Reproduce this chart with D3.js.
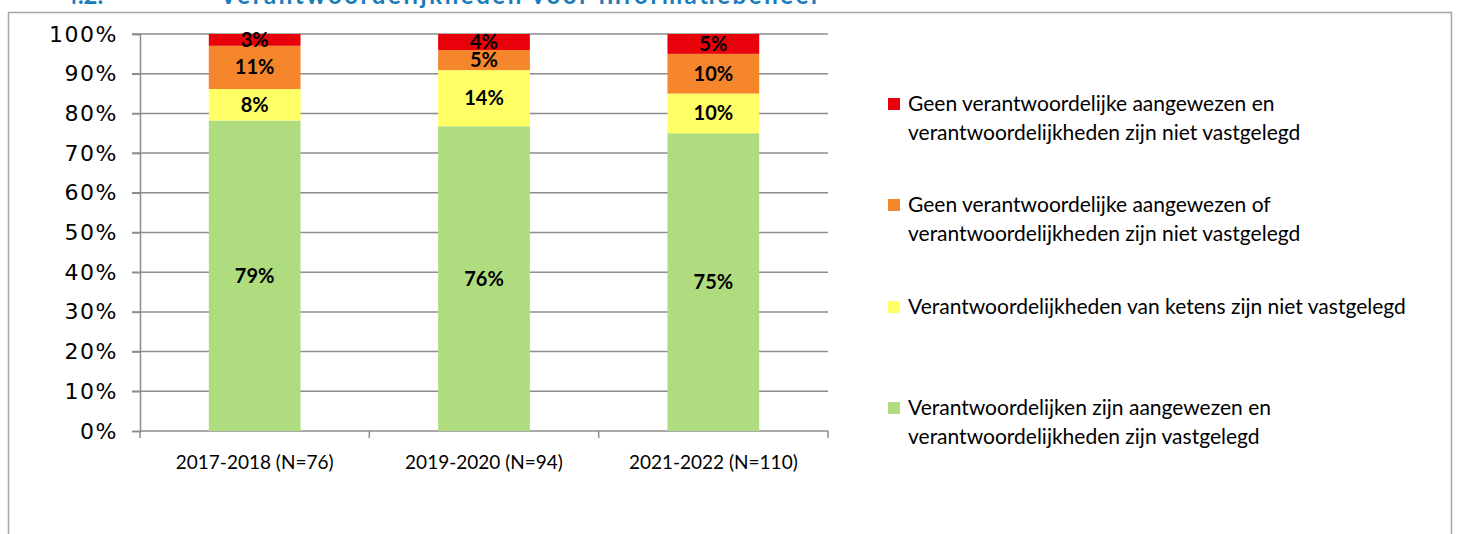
<!DOCTYPE html>
<html>
<head>
<meta charset="utf-8">
<script src="https://cdn.jsdelivr.net/npm/d3@7.9.0/dist/d3.min.js"></script>
<style>
  body { margin: 0; background: #fff; }
  svg { display: block; }
</style>
</head>
<body>
<svg id="chart" width="1460" height="534"></svg>
<script>
// data
const periods = ['2017-2018 (N=76)', '2019-2020 (N=94)', '2021-2022 (N=110)'];
const seriesKeys = ['aangewezen', 'ketens', 'geenOf', 'geenEn'];
const seriesLabels = [
  ['Verantwoordelijken zijn aangewezen en', 'verantwoordelijkheden zijn vastgelegd'],
  ['Verantwoordelijkheden van ketens zijn niet vastgelegd'],
  ['Geen verantwoordelijke aangewezen of', 'verantwoordelijkheden zijn niet vastgelegd'],
  ['Geen verantwoordelijke aangewezen en', 'verantwoordelijkheden zijn niet vastgelegd']
];
const aangewezen = [79, 76, 75];
const ketens = [8, 14, 10];
const geenOf = [11, 5, 10];
const geenEn = [3, 4, 5];
const colors = ['#b0dc80', '#ffff66', '#f5862b', '#e8000b'];
const yTicks = [0, 0.1, 0.2, 0.3, 0.4, 0.5, 0.6, 0.7, 0.8, 0.9, 1];

const rows = periods.map((p, i) => ({
  period: p,
  aangewezen: aangewezen[i],
  ketens: ketens[i],
  geenOf: geenOf[i],
  geenEn: geenEn[i]
}));

const svg = d3.select('#chart');

// outer frame and (cut off) heading
svg.append('rect')
  .attr('x', 8.5).attr('y', 12.5)
  .attr('width', 1443).attr('height', 540)
  .attr('fill', 'none').attr('stroke', '#a6a6a6').attr('stroke-width', 1.5);

const title = svg.append('g')
  .attr('font-family', 'Lato, sans-serif')
  .attr('font-weight', 'bold').attr('font-size', 24).attr('fill', '#1a7bb9');
title.append('text').attr('x', 64).attr('y', 4).text('4.2.');
title.append('text').attr('x', 220).attr('y', 4)
  .attr('textLength', 600).text('Verantwoordelijkheden voor informatiebeheer');

const plotLeft = 140, plotRight = 828, plotTop = 34, plotBottom = 431;

const x = d3.scaleBand().domain(periods).range([plotLeft, plotRight]).paddingInner(0.6).paddingOuter(0.3);
const band = d3.scaleBand().domain(periods).range([plotLeft, plotRight]);
const y = d3.scaleLinear().domain([0, 1]).range([plotBottom, plotTop]);

const stacked = d3.stack().keys(seriesKeys).offset(d3.stackOffsetExpand)(rows);

// gridlines
svg.append('g')
  .selectAll('line').data(yTicks.slice(1)).join('line')
  .attr('x1', plotLeft - 8).attr('x2', plotRight)
  .attr('y1', d => y(d)).attr('y2', d => y(d))
  .attr('stroke', '#8c8c8c').attr('stroke-width', 1.5);

// y axis
const yAxis = svg.append('g')
  .attr('transform', `translate(${plotLeft},0)`)
  .call(d3.axisLeft(y).tickValues(yTicks).tickFormat(d3.format('.0%')).tickSize(8).tickPadding(14));
yAxis.select('.domain').attr('stroke', '#8c8c8c').attr('stroke-width', 1.5);
yAxis.selectAll('.tick line').attr('stroke', '#8c8c8c').attr('stroke-width', 1.5);
yAxis.selectAll('text')
  .attr('font-family', '"DejaVu Sans", sans-serif').attr('font-size', 22)
  .attr('letter-spacing', 1.5).attr('fill', '#000');

// x axis with ticks between categories
const xAxisG = svg.append('g').attr('transform', `translate(0,${plotBottom})`);
xAxisG.append('line').attr('x1', plotLeft).attr('x2', plotRight)
  .attr('stroke', '#8c8c8c').attr('stroke-width', 1.5);
const tickXs = periods.map(p => band(p)).concat([plotRight]);
xAxisG.selectAll('.tk').data(tickXs).join('line')
  .attr('x1', d => d).attr('x2', d => d).attr('y1', 0).attr('y2', 7)
  .attr('stroke', '#8c8c8c').attr('stroke-width', 1.5);
xAxisG.selectAll('text').data(periods).join('text')
  .attr('x', d => x(d) + x.bandwidth() / 2).attr('y', 38)
  .attr('text-anchor', 'middle')
  .attr('font-family', 'Lato, sans-serif').attr('font-size', 19).attr('fill', '#000')
  .text(d => d);

// bars
const layers = svg.append('g').selectAll('g').data(stacked).join('g')
  .attr('fill', (d, i) => colors[i]);
layers.selectAll('rect').data(d => d).join('rect')
  .attr('x', d => x(d.data.period))
  .attr('width', x.bandwidth())
  .attr('y', d => y(d[1]))
  .attr('height', d => y(d[0]) - y(d[1]));

// value labels
layers.each(function (layer) {
  d3.select(this).selectAll('text').data(layer).join('text')
    .attr('x', d => x(d.data.period) + x.bandwidth() / 2)
    .attr('y', d => (y(d[0]) + y(d[1])) / 2 + 7)
    .attr('text-anchor', 'middle')
    .attr('font-family', 'Lato, sans-serif').attr('font-weight', 'bold')
    .attr('font-size', 20).attr('fill', '#000')
    .text(d => d.data[layer.key] + '%');
});

// legend (top entry = last series)
const legendY = [103, 204, 306, 407];
const legend = svg.append('g');
[3, 2, 1, 0].forEach((si, k) => {
  const g = legend.append('g').attr('transform', `translate(888,${legendY[k]})`);
  g.append('rect').attr('x', 0).attr('y', -5).attr('width', 12).attr('height', 12)
    .attr('fill', colors[si]);
  g.selectAll('text').data(seriesLabels[si]).join('text')
    .attr('x', 20).attr('y', (d, j) => 8 + j * 29)
    .attr('font-family', 'Lato, sans-serif').attr('font-size', 21).attr('fill', '#000')
    .text(d => d);
});
</script>
</body>
</html>
